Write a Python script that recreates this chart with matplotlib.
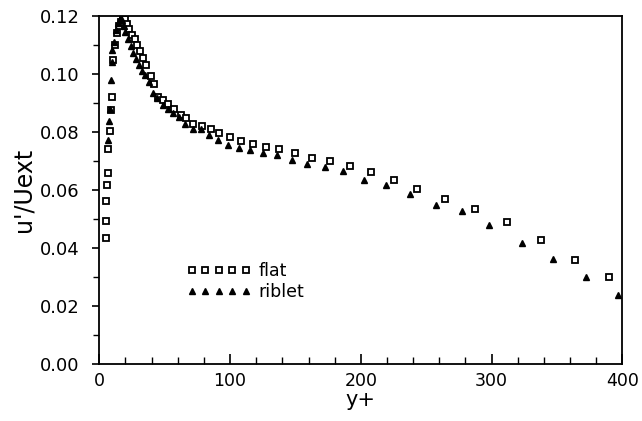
import matplotlib
matplotlib.use("Agg")
import matplotlib.pyplot as plt
from matplotlib.ticker import MultipleLocator

# flat wall (open squares)
flat_y_plus = [4.9, 5.1, 5.4, 5.9, 6.4, 6.9, 8.2, 8.9, 9.5, 10.7, 12.0, 13.3, 14.8, 16.5,
               18.0, 19.6, 21.2, 23.0, 25.0, 27.2, 29.2, 31.3, 33.5, 36.0, 39.5, 41.8,
               45.1, 48.9, 52.8, 57.1, 62.3, 66.3, 71.9, 78.3, 85.2, 91.8, 100.0, 108.1,
               117.3, 127.5, 137.7, 149.7, 162.4, 176.4, 191.7, 207.6, 225.4, 243.2,
               264.4, 287.1, 311.6, 337.8, 363.6, 389.6]
flat_u = [0.0435, 0.0492, 0.0560, 0.0618, 0.0659, 0.0739, 0.0802, 0.0874, 0.0920, 0.1047,
          0.1100, 0.1140, 0.1165, 0.1180, 0.1192, 0.1188, 0.1172, 0.1155, 0.1135, 0.1120,
          0.1100, 0.1080, 0.1055, 0.1030, 0.0993, 0.0964, 0.0920, 0.0909, 0.0897, 0.0877,
          0.0857, 0.0846, 0.0828, 0.0819, 0.0809, 0.0796, 0.0782, 0.0767, 0.0757, 0.0748,
          0.0739, 0.0728, 0.0711, 0.0698, 0.0681, 0.0661, 0.0635, 0.0604, 0.0567, 0.0532,
          0.0489, 0.0428, 0.0359, 0.0299]

# riblet wall (filled triangles)
riblet_y_plus = [6.9, 7.4, 8.2, 8.7, 9.5, 9.9, 11.0, 12.5, 14.0, 15.5, 17.0, 18.5, 20.0,
                 22.0, 24.0, 26.0, 28.0, 30.0, 32.4, 35.0, 38.0, 41.3, 44.5, 48.9, 52.5,
                 56.6, 61.0, 65.5, 71.4, 77.6, 84.1, 91.0, 98.7, 106.8, 115.3, 125.0,
                 135.7, 147.1, 159.1, 172.6, 186.6, 202.4, 219.3, 237.6, 257.5, 277.4,
                 298.3, 323.1, 347.2, 372.0, 397.0]
riblet_u = [0.0771, 0.0836, 0.0880, 0.0978, 0.1041, 0.1081, 0.1110, 0.1150, 0.1175, 0.1190,
            0.1185, 0.1165, 0.1145, 0.1120, 0.1095, 0.1070, 0.1050, 0.1030, 0.1010, 0.0995,
            0.0970, 0.0932, 0.0915, 0.0892, 0.0880, 0.0863, 0.0850, 0.0828, 0.0808, 0.0808,
            0.0788, 0.0771, 0.0753, 0.0744, 0.0736, 0.0727, 0.0721, 0.0702, 0.0688, 0.0679,
            0.0665, 0.0633, 0.0615, 0.0584, 0.0549, 0.0527, 0.0477, 0.0416, 0.0362, 0.0299,
            0.0236]

fig = plt.figure(figsize=(6.42, 4.21), dpi=100)
ax = fig.add_axes([0.1547, 0.1359, 0.8146, 0.8268])

ax.plot(flat_y_plus, flat_u, linestyle='none', marker='s', markersize=4.2,
        markerfacecolor='white', markeredgecolor='black', markeredgewidth=1.3, label='flat')
ax.plot(riblet_y_plus, riblet_u, linestyle='none', marker='^', markersize=4.6,
        color='black', label='riblet')

ax.set_xlim(0, 400)
ax.set_ylim(0, 0.12)
ax.xaxis.set_major_locator(MultipleLocator(100))
ax.xaxis.set_minor_locator(MultipleLocator(20))
ax.yaxis.set_major_locator(MultipleLocator(0.02))
ax.yaxis.set_minor_locator(MultipleLocator(0.01))
ax.yaxis.set_major_formatter(plt.FormatStrFormatter('%.2f'))

ax.tick_params(axis='x', which='major', direction='in', length=7, width=1.2,
               labelsize=12.5, pad=6)
ax.tick_params(axis='x', which='minor', direction='in', length=5, width=1.0)
ax.tick_params(axis='y', which='major', direction='out', length=5, width=1.2,
               labelsize=13, pad=9)
ax.tick_params(axis='y', which='minor', direction='out', length=4, width=1.0)
for s in ax.spines.values():
    s.set_linewidth(1.3)

ax.set_xlabel('y+', fontsize=15, labelpad=0)
ax.set_ylabel("u'/Uext", fontsize=17, labelpad=3)

ax.legend(numpoints=5, frameon=False, loc='upper left', bbox_to_anchor=(0.167, 0.293),
          handlelength=3.7, handletextpad=0.45, labelspacing=0.19, fontsize=12.5,
          borderpad=0, borderaxespad=0)

fig.savefig('out.png', dpi=100)
